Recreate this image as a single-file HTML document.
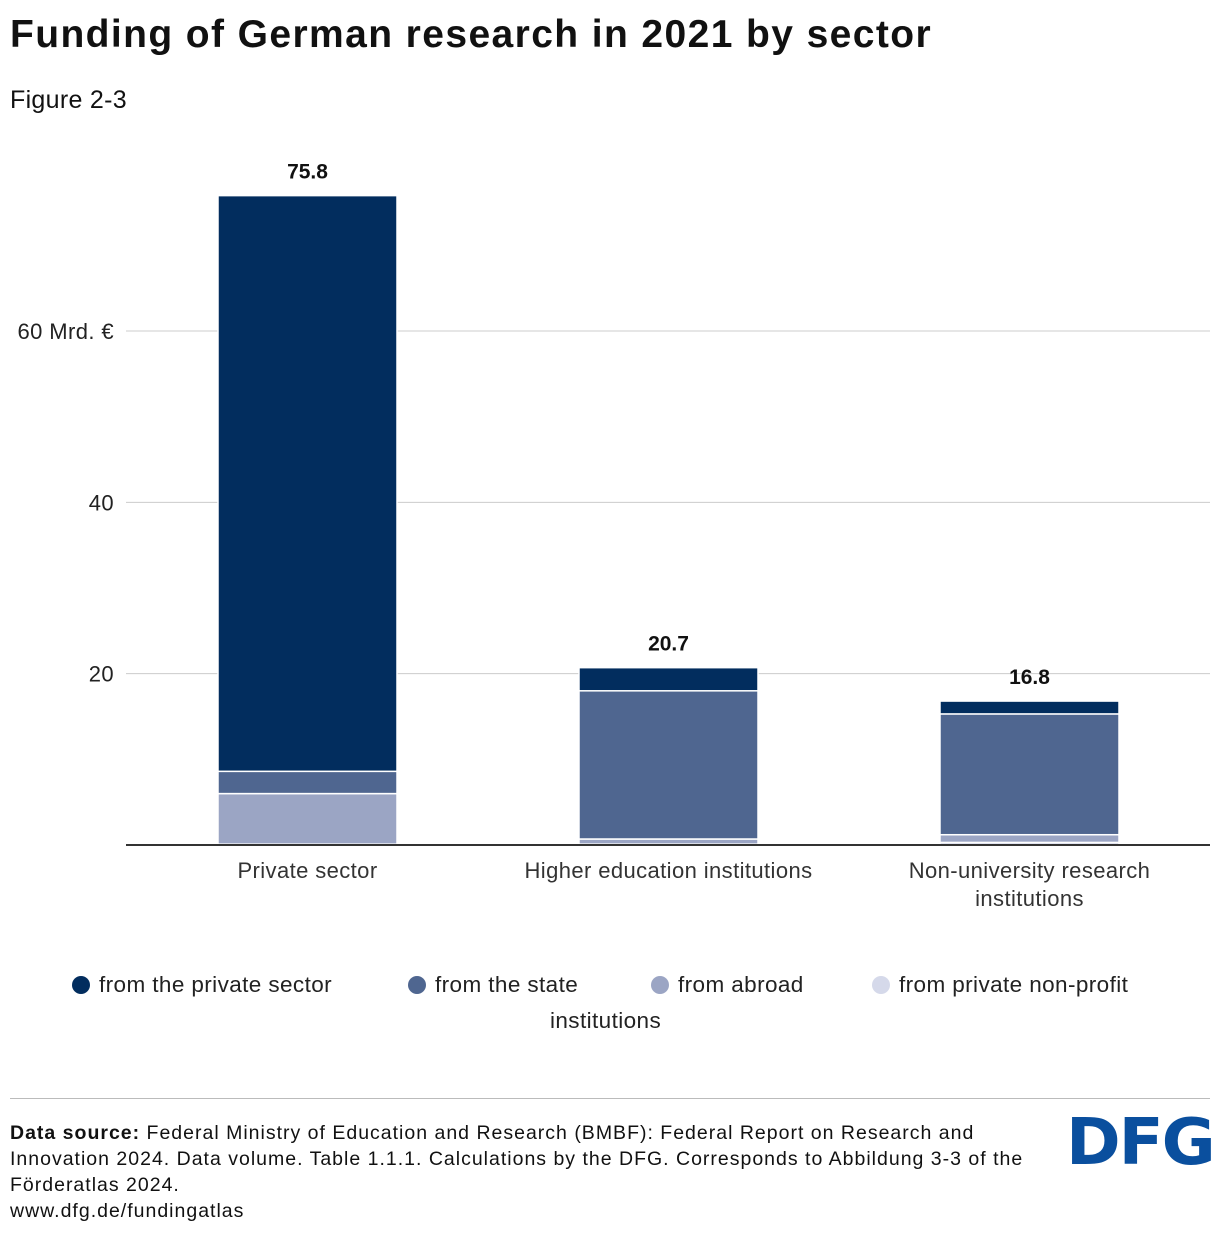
<!DOCTYPE html>
<html><head><meta charset="utf-8"><style>
body{margin:0;width:1220px;height:1234px;background:#fff;font-family:"Liberation Sans",sans-serif;color:#111;position:relative;overflow:hidden}
.abs{position:absolute}
.le{position:absolute;top:0;white-space:nowrap}
.dot{display:inline-block;width:18px;height:18px;border-radius:50%;vertical-align:-2px;margin-right:9px}
</style></head><body>
<div class="abs" style="left:10px;top:13px;font-size:39px;font-weight:bold;letter-spacing:1.4px">Funding of German research in 2021 by sector</div>
<div class="abs" style="left:10px;top:86px;font-size:25px;letter-spacing:0.3px">Figure 2-3</div>
<svg class="abs" style="left:0;top:0" width="1220" height="1080" id="chart"></svg>
<div class="abs" style="left:0;top:968px;width:1220px;height:80px;font-size:22.5px;color:#222;line-height:34px;letter-spacing:0.4px">
<span class="le" style="left:72px"><span class="dot" style="background:#022d5e"></span>from the private sector</span>
<span class="le" style="left:408px"><span class="dot" style="background:#4f6690"></span>from the state</span>
<span class="le" style="left:651px"><span class="dot" style="background:#9ba5c4"></span>from abroad</span>
<span class="le" style="left:872px"><span class="dot" style="background:#d5d9ea"></span>from private non-profit</span>
<span class="le" style="left:550px;top:36px">institutions</span>
</div>
<div class="abs" style="left:10px;top:1098px;width:1200px;height:1px;background:#bbb"></div>
<div class="abs" style="left:10px;top:1120px;width:1050px;font-size:19.5px;line-height:26px;color:#111;letter-spacing:1px;white-space:nowrap"><b>Data source:</b> Federal Ministry of Education and Research (BMBF): Federal Report on Research and<br>Innovation 2024. Data volume. Table 1.1.1. Calculations by the DFG. Corresponds to Abbildung 3-3 of the<br>Förderatlas 2024.<br><span>www.dfg.de/fundingatlas</span></div>
<div class="abs" style="left:1066px;top:1106px;font-size:64px;font-weight:900;color:#0a4f9e;letter-spacing:-2px;font-family:'DejaVu Sans','Liberation Sans',sans-serif;transform:scaleX(1.03);transform-origin:left">DFG</div>
<script>
const categories=["Private sector","Higher education institutions","Non-university research institutions"];
const totals=[75.8,20.7,16.8];
const nonprofit=[0.1,0.1,0.3];
const abroad=[5.9,0.6,0.9];
const state=[2.6,17.3,14.1];
const privateSec=[67.2,2.7,1.5];
const yTicks=[20,40,60];
const yTickLabels=["20","40","60 Mrd. €"];
const svg=document.getElementById('chart');const NS='http://www.w3.org/2000/svg';
const y=v=>845-v*8.567;
const xc=i=>307.5+i*361;
function mk(t,a){const e=document.createElementNS(NS,t);for(const k in a)e.setAttribute(k,a[k]);svg.appendChild(e);return e;}
yTicks.forEach((t,i)=>{
 const g=mk('line',{x1:126,x2:1210,y1:y(t),y2:y(t),stroke:'#ccc','stroke-width':1});
 
 
 const tx=mk('text',{x:114,y:y(t)+8,'text-anchor':'end','font-size':22,fill:'#222','letter-spacing':0.4});
 tx.textContent=yTickLabels[i];
 
 
});
const series=[[nonprofit,'#d5d9ea'],[abroad,'#9ba5c4'],[state,'#4f6690'],[privateSec,'#022d5e']];
categories.forEach((c,i)=>{
 let base=0;
 series.forEach(([arr,col])=>{
  const v=arr[i];const r=mk('rect',{x:xc(i)-89.5,width:179,y:y(base+v),height:Math.max(0,y(base)-y(base+v)),fill:col,stroke:'#fff','stroke-width':1.5});
  
  
  base+=v;
 });
 const lab=mk('text',{x:xc(i),y:y(totals[i])-17,'text-anchor':'middle','font-size':21,'font-weight':'bold',fill:'#111'});
 lab.textContent=totals[i].toFixed(1);
 
 
 const words=c==="Non-university research institutions"?["Non-university research","institutions"]:[c];
 words.forEach((w,j)=>{const t=mk('text',{x:xc(i),y:878+j*28,'text-anchor':'middle','font-size':22,fill:'#333','letter-spacing':0.4});t.textContent=w;
  
  });
});
const ax=mk('line',{x1:126,x2:1210,y1:845,y2:845,stroke:'#333','stroke-width':2});


</script>
</body></html>
